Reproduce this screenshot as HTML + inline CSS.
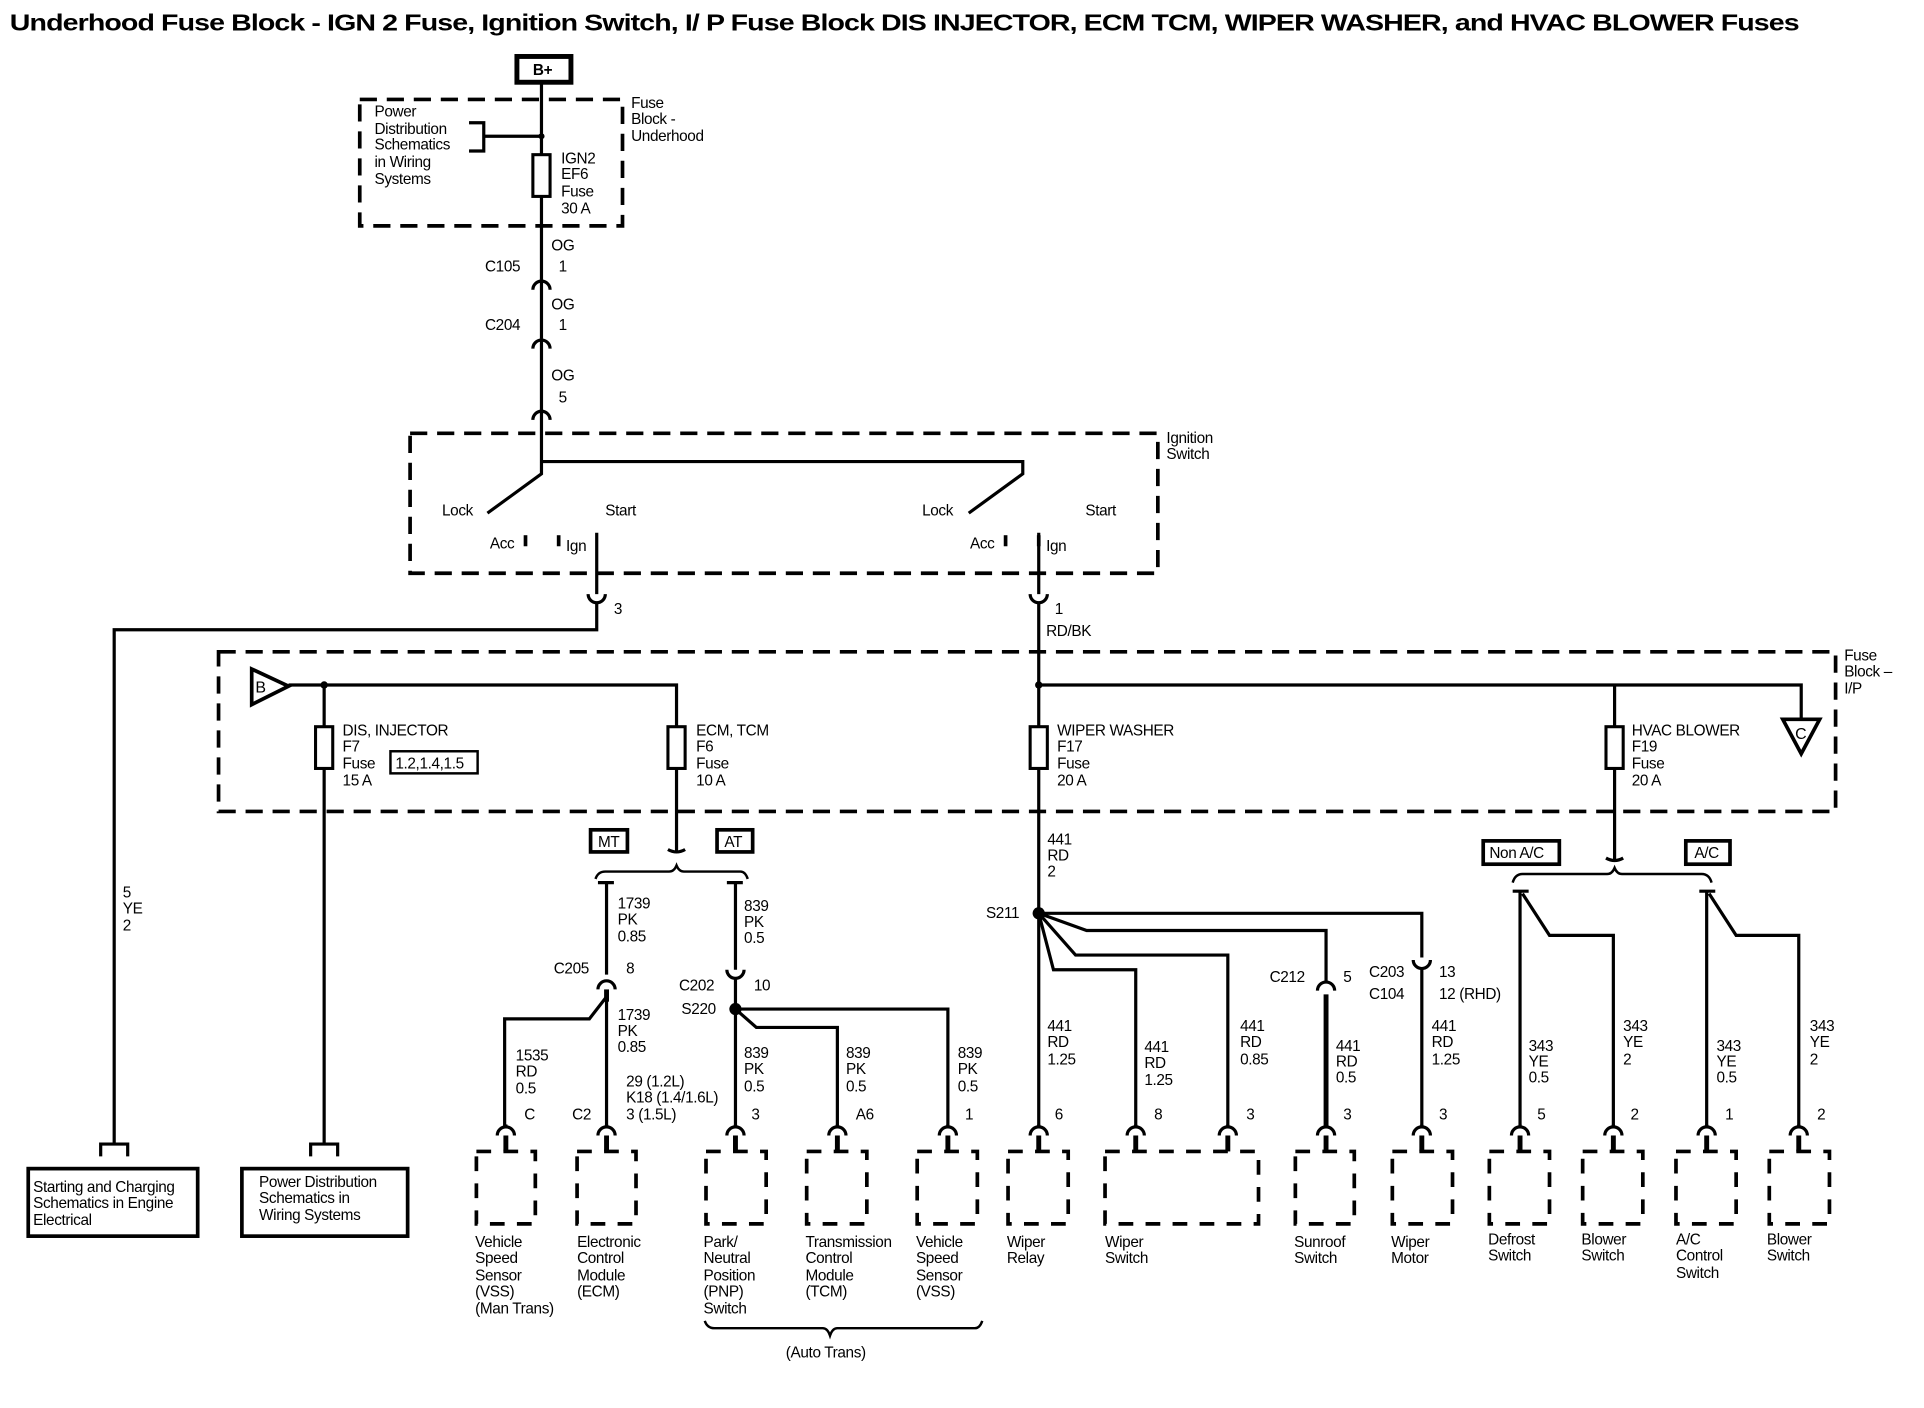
<!DOCTYPE html>
<html><head><meta charset="utf-8"><style>
html,body{margin:0;padding:0;background:#fff;}
svg{display:block;}
text{font-family:"Liberation Sans",Arial,sans-serif;font-size:12.5px;fill:#000;letter-spacing:-0.3px;}
.t{font-size:19px;font-weight:bold;letter-spacing:-0.6px;}
.w{stroke:#000;stroke-width:2.6;fill:none;}
.d{stroke:#000;stroke-width:3;fill:none;stroke-dasharray:14,8;}
.b{stroke:#000;stroke-width:3;fill:none;}
</style></head><body>
<svg width="1924" height="1408" viewBox="0 0 1567 1147" preserveAspectRatio="none" xmlns="http://www.w3.org/2000/svg">
<defs>
<g id="fc"><path class="w" d="M-7,7 A7,7 0 0 1 7,7"/><line class="w" x1="0" y1="0" x2="0" y2="-2"/><line stroke="#000" stroke-width="4" x1="0" y1="7" x2="0" y2="20"/></g>
</defs>
<text class="t" x="8" y="25" textLength="1457" lengthAdjust="spacingAndGlyphs">Underhood Fuse Block - IGN 2 Fuse, Ignition Switch, I/ P Fuse Block  DIS INJECTOR, ECM TCM, WIPER WASHER, and HVAC BLOWER Fuses</text>

<!-- B+ -->
<rect x="421" y="46" width="44" height="21" stroke="#000" stroke-width="4" fill="#fff"/>
<text x="434" y="61" style="font-weight:bold">B+</text>
<rect class="d" x="293" y="81" width="214" height="103"/>
<line class="w" x1="441" y1="67" x2="441" y2="228"/>
<circle cx="441" cy="111" r="2.5"/>
<path class="w" d="M382,100 H394 V123 H382 M394,111 H441"/>
<rect x="434" y="126" width="14" height="34" fill="#fff" stroke="#000" stroke-width="2.5"/>
<text x="305" y="95">Power</text><text x="305" y="109">Distribution</text><text x="305" y="122">Schematics</text><text x="305" y="136">in Wiring</text><text x="305" y="150">Systems</text>
<text x="514" y="88">Fuse</text><text x="514" y="101">Block -</text><text x="514" y="115">Underhood</text>
<text x="457" y="133">IGN2</text><text x="457" y="146">EF6</text><text x="457" y="160">Fuse</text><text x="457" y="174">30 A</text>
<text x="449" y="204">OG</text><text x="455" y="221">1</text><text x="395" y="221">C105</text>
<path class="w" d="M434,236 A7,7 0 0 1 448,236"/><line class="w" x1="441" y1="229" x2="441" y2="276"/>
<text x="449" y="252">OG</text><text x="455" y="269">1</text><text x="395" y="269">C204</text>
<path class="w" d="M434,284 A7,7 0 0 1 448,284"/><line class="w" x1="441" y1="277" x2="441" y2="334"/>
<text x="449" y="310">OG</text><text x="455" y="328">5</text>
<path class="w" d="M434,342 A7,7 0 0 1 448,342"/><line class="w" x1="441" y1="335" x2="441" y2="376"/>

<!-- ignition switch -->
<rect class="d" x="334" y="353" width="609" height="114"/>
<text x="950" y="361">Ignition</text><text x="950" y="374">Switch</text>
<path class="w" d="M441,376 H833 V386 L789,418 M441,376 V386 L397,418"/>
<text x="360" y="420">Lock</text><text x="493" y="420">Start</text><text x="399" y="447">Acc</text><text x="461" y="449">Ign</text>
<line stroke="#000" stroke-width="3" x1="428" y1="436" x2="428" y2="445"/><line stroke="#000" stroke-width="3" x1="455" y1="436" x2="455" y2="445"/>
<text x="751" y="420">Lock</text><text x="884" y="420">Start</text><text x="790" y="447">Acc</text><text x="852" y="449">Ign</text>
<line stroke="#000" stroke-width="3" x1="819" y1="436" x2="819" y2="445"/><line stroke="#000" stroke-width="3" x1="846" y1="436" x2="846" y2="445"/>
<line class="w" x1="486" y1="434" x2="486" y2="484"/>
<path class="w" d="M479,484 A7,7 0 0 0 493,484"/>
<path class="w" d="M486,491 V513 H93 V932"/>
<text x="500" y="500">3</text>
<line class="w" x1="846" y1="434" x2="846" y2="484"/>
<path class="w" d="M839,484 A7,7 0 0 0 853,484"/>
<line class="w" x1="846" y1="491" x2="846" y2="592"/>
<text x="859" y="500">1</text><text x="852" y="518">RD/BK</text>
<text x="100" y="731">5</text><text x="100" y="744">YE</text><text x="100" y="758">2</text>

<!-- IP fuse block -->
<rect class="d" x="178" y="531" width="1317" height="130"/>
<text x="1502" y="538">Fuse</text><text x="1502" y="551">Block –</text><text x="1502" y="565">I/P</text>
<path class="b" d="M205,545 L235,559 L205,574 Z"/><text x="208" y="564" style="font-size:13px">B</text>
<path class="w" d="M235,558 H551 V592"/>
<circle cx="264" cy="558" r="3"/>
<line class="w" x1="264" y1="558" x2="264" y2="932"/>
<circle cx="846" cy="558" r="3"/>
<path class="w" d="M846,558 H1467 V586"/>
<path class="b" d="M1452,586 L1482,586 L1467,614 Z"/><text x="1462" y="602" style="font-size:13px">C</text>
<line class="w" x1="1315" y1="558" x2="1315" y2="700"/>
<g fill="#fff" stroke="#000" stroke-width="2.5">
<rect x="257" y="592" width="14" height="34"/><rect x="544" y="592" width="14" height="34"/><rect x="839" y="592" width="14" height="34"/><rect x="1308" y="592" width="14" height="34"/>
</g>
<text x="279" y="599">DIS, INJECTOR</text><text x="279" y="612">F7</text><text x="279" y="626">Fuse</text><text x="279" y="640">15 A</text>
<rect x="318" y="612" width="71" height="18" class="b" style="stroke-width:2"/><text x="322" y="626">1.2,1.4,1.5</text>
<text x="567" y="599">ECM, TCM</text><text x="567" y="612">F6</text><text x="567" y="626">Fuse</text><text x="567" y="640">10 A</text>
<text x="861" y="599">WIPER WASHER</text><text x="861" y="612">F17</text><text x="861" y="626">Fuse</text><text x="861" y="640">20 A</text>
<text x="1329" y="599">HVAC BLOWER</text><text x="1329" y="612">F19</text><text x="1329" y="626">Fuse</text><text x="1329" y="640">20 A</text>

<!-- MT/AT -->
<path class="w" d="M551,626 V693 M544,692 Q551,696 558,692"/>
<rect x="481" y="676" width="30" height="18" class="b"/><text x="487" y="690">MT</text>
<rect x="584" y="676" width="29" height="18" class="b"/><text x="590" y="690">AT</text>
<path class="w" style="stroke-width:2" d="M485,716 Q487,710 493,710 H545 Q549,710 551,705 Q553,710 557,710 H603 Q607,710 609,716"/>
<path class="w" d="M487,719 H500 M494,719 V794 M592,719 H605 M599,719 V790"/>
<path class="w" d="M592,790 A7,7 0 0 0 606,790 M599,797 V918"/>
<path class="w" d="M487,806 A7,7 0 0 1 501,806"/>
<line stroke="#000" stroke-width="4" x1="494" y1="806" x2="494" y2="816"/>
<path class="w" d="M494,812 L480,830 H411 V918 M494,812 V918"/>
<text x="503" y="740">1739</text><text x="503" y="753">PK</text><text x="503" y="767">0.85</text>
<text x="451" y="793">C205</text><text x="510" y="793">8</text>
<text x="503" y="831">1739</text><text x="503" y="844">PK</text><text x="503" y="857">0.85</text>
<text x="420" y="864">1535</text><text x="420" y="877">RD</text><text x="420" y="891">0.5</text>
<text x="427" y="912">C</text><text x="466" y="912">C2</text>
<text x="510" y="885">29 (1.2L)</text><text x="510" y="898">K18 (1.4/1.6L)</text><text x="510" y="912">3 (1.5L)</text>
<text x="606" y="742">839</text><text x="606" y="755">PK</text><text x="606" y="768">0.5</text>
<text x="553" y="807">C202</text><text x="614" y="807">10</text><text x="555" y="826">S220</text>
<circle cx="599" cy="822" r="5"/>
<path class="w" d="M599,822 H772 V918 M599,822 L616,837 H682 V918"/>
<text x="606" y="862">839</text><text x="606" y="875">PK</text><text x="606" y="889">0.5</text><text x="612" y="912">3</text>
<text x="689" y="862">839</text><text x="689" y="875">PK</text><text x="689" y="889">0.5</text><text x="697" y="912">A6</text>
<text x="780" y="862">839</text><text x="780" y="875">PK</text><text x="780" y="889">0.5</text><text x="786" y="912">1</text>

<!-- wiper -->
<text x="853" y="688">441</text><text x="853" y="701">RD</text><text x="853" y="714">2</text>
<text x="803" y="748">S211</text>
<line class="w" x1="846" y1="626" x2="846" y2="918"/>
<circle cx="846" cy="744" r="5"/>
<path class="w" d="M846,744 H1158 V780 M846,744 L858,790 H925 V918 M846,744 L876,778 H1000 V918 M846,744 L885,758 H1080 V800"/>
<path class="w" d="M1151,782 A7,7 0 0 0 1165,782 M1158,789 V918"/>
<path class="w" d="M1073,807 A7,7 0 0 1 1087,807"/>
<line stroke="#000" stroke-width="4" x1="1080" y1="810" x2="1080" y2="918"/>
<text x="853" y="840">441</text><text x="853" y="853">RD</text><text x="853" y="867">1.25</text><text x="859" y="912">6</text>
<text x="932" y="857">441</text><text x="932" y="870">RD</text><text x="932" y="884">1.25</text><text x="940" y="912">8</text>
<text x="1010" y="840">441</text><text x="1010" y="853">RD</text><text x="1010" y="867">0.85</text><text x="1015" y="912">3</text>
<text x="1034" y="800">C212</text><text x="1094" y="800">5</text>
<text x="1088" y="856">441</text><text x="1088" y="869">RD</text><text x="1088" y="882">0.5</text><text x="1094" y="912">3</text>
<text x="1115" y="796">C203</text><text x="1115" y="814">C104</text><text x="1172" y="796">13</text><text x="1172" y="814">12 (RHD)</text>
<text x="1166" y="840">441</text><text x="1166" y="853">RD</text><text x="1166" y="867">1.25</text><text x="1172" y="912">3</text>

<!-- HVAC -->
<path class="w" d="M1308,699 Q1315,703 1322,699"/>
<rect x="1208" y="685" width="62" height="19" class="b"/><text x="1213" y="699">Non A/C</text>
<rect x="1373" y="685" width="36" height="19" class="b"/><text x="1380" y="699">A/C</text>
<path class="w" style="stroke-width:2" d="M1232,719 Q1234,712 1240,712 H1309 Q1313,712 1315,707 Q1317,712 1321,712 H1386 Q1392,712 1394,719"/>
<path class="w" d="M1232,726 H1245 M1238,726 V918 M1240,728 L1262,762 H1314 V918"/>
<path class="w" d="M1384,726 H1397 M1390,726 V918 M1392,728 L1414,762 H1465 V918"/>
<text x="1245" y="856">343</text><text x="1245" y="869">YE</text><text x="1245" y="882">0.5</text><text x="1252" y="912">5</text>
<text x="1322" y="840">343</text><text x="1322" y="853">YE</text><text x="1322" y="867">2</text><text x="1328" y="912">2</text>
<text x="1398" y="856">343</text><text x="1398" y="869">YE</text><text x="1398" y="882">0.5</text><text x="1405" y="912">1</text>
<text x="1474" y="840">343</text><text x="1474" y="853">YE</text><text x="1474" y="867">2</text><text x="1480" y="912">2</text>

<!-- component connectors -->
<use href="#fc" x="412" y="918"/><use href="#fc" x="494" y="918"/><use href="#fc" x="599" y="918"/><use href="#fc" x="682" y="918"/><use href="#fc" x="772" y="918"/>
<use href="#fc" x="846" y="918"/><use href="#fc" x="925" y="918"/><use href="#fc" x="1000" y="918"/><use href="#fc" x="1080" y="918"/><use href="#fc" x="1158" y="918"/>
<use href="#fc" x="1238" y="918"/><use href="#fc" x="1314" y="918"/><use href="#fc" x="1390" y="918"/><use href="#fc" x="1465" y="918"/>
<!-- dashed boxes -->
<g class="d" style="stroke-dasharray:12,10">
<rect x="388" y="938" width="48" height="59"/><rect x="470" y="938" width="48" height="59"/>
<rect x="575" y="938" width="49" height="59"/><rect x="657" y="938" width="49" height="59"/><rect x="747" y="938" width="49" height="59"/>
<rect x="821" y="938" width="49" height="59"/><rect x="900" y="938" width="125" height="59"/><rect x="1055" y="938" width="48" height="59"/>
<rect x="1134" y="938" width="49" height="59"/><rect x="1213" y="938" width="49" height="59"/><rect x="1289" y="938" width="49" height="59"/>
<rect x="1365" y="938" width="49" height="59"/><rect x="1441" y="938" width="49" height="59"/>
</g>
<g>
<text x="387" y="1016">Vehicle</text><text x="387" y="1029">Speed</text><text x="387" y="1043">Sensor</text><text x="387" y="1056">(VSS)</text><text x="387" y="1070">(Man Trans)</text>
<text x="470" y="1016">Electronic</text><text x="470" y="1029">Control</text><text x="470" y="1043">Module</text><text x="470" y="1056">(ECM)</text>
<text x="573" y="1016">Park/</text><text x="573" y="1029">Neutral</text><text x="573" y="1043">Position</text><text x="573" y="1056">(PNP)</text><text x="573" y="1070">Switch</text>
<text x="656" y="1016">Transmission</text><text x="656" y="1029">Control</text><text x="656" y="1043">Module</text><text x="656" y="1056">(TCM)</text>
<text x="746" y="1016">Vehicle</text><text x="746" y="1029">Speed</text><text x="746" y="1043">Sensor</text><text x="746" y="1056">(VSS)</text>
<text x="820" y="1016">Wiper</text><text x="820" y="1029">Relay</text>
<text x="900" y="1016">Wiper</text><text x="900" y="1029">Switch</text>
<text x="1054" y="1016">Sunroof</text><text x="1054" y="1029">Switch</text>
<text x="1133" y="1016">Wiper</text><text x="1133" y="1029">Motor</text>
<text x="1212" y="1014">Defrost</text><text x="1212" y="1027">Switch</text>
<text x="1288" y="1014">Blower</text><text x="1288" y="1027">Switch</text>
<text x="1365" y="1014">A/C</text><text x="1365" y="1027">Control</text><text x="1365" y="1041">Switch</text>
<text x="1439" y="1014">Blower</text><text x="1439" y="1027">Switch</text>
</g>
<path class="w" style="stroke-width:2" d="M574,1076 Q576,1082 582,1082 H670 Q674,1082 676,1088 Q678,1082 682,1082 H794 Q798,1082 800,1076"/>
<text x="640" y="1106">(Auto Trans)</text>

<!-- left reference boxes -->
<path class="w" d="M82,942 V932 H104 V942"/><path class="w" d="M253,942 V932 H275 V942"/>
<rect x="23" y="952" width="138" height="55" class="b"/>
<text x="27" y="971">Starting and Charging</text><text x="27" y="984">Schematics in Engine</text><text x="27" y="998">Electrical</text>
<rect x="197" y="952" width="135" height="55" class="b"/>
<text x="211" y="967">Power Distribution</text><text x="211" y="980">Schematics in</text><text x="211" y="994">Wiring Systems</text>
</svg>
</body></html>
